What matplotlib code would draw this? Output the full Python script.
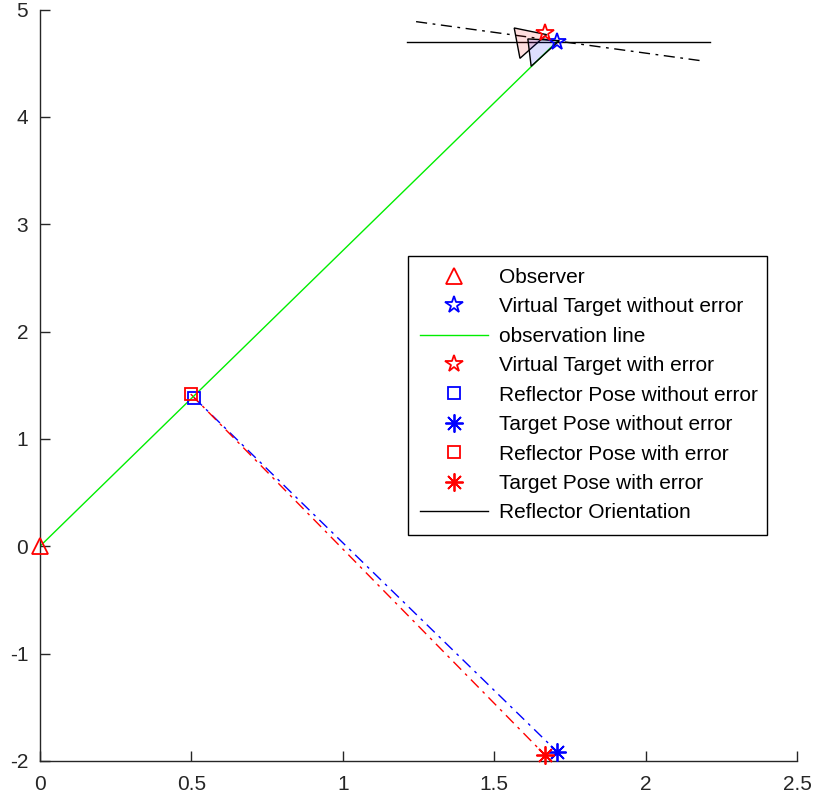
import matplotlib.pyplot as plt
from matplotlib.patches import Polygon

plt.rcParams['font.family'] = ['Liberation Sans', 'DejaVu Sans']

# points
observer = (0.0, 0.0)
vt_true = (1.707, 4.702)
vt_err = (1.668, 4.786)
refl_true = (0.509, 1.384)
refl_err = (0.498, 1.418)
tgt_true = (1.708, -1.915)
tgt_err = (1.668, -1.946)

# reflector orientation lines
orient_x = [1.212, 2.213]
orient_y = [4.702, 4.702]
orient_err_x = [1.242, 2.180]
orient_err_y = [4.888, 4.525]

# reflector shapes (triangles)
tri_err = [(1.566, 4.829), (1.673, 4.767), (1.585, 4.546)]
tri_true = [(1.611, 4.727), (1.715, 4.711), (1.622, 4.472)]

fig = plt.figure(figsize=(8.15, 8.01), dpi=100)
ax = fig.add_axes([0.049, 0.050, 0.929, 0.938])

ax.plot(orient_err_x, orient_err_y, color='black', lw=1.0, dashes=(8, 4, 2, 4))
ax.plot([refl_true[0], tgt_true[0]], [refl_true[1], tgt_true[1]], color='blue', lw=1.0,
        dashes=(8, 4, 2, 4))
ax.plot([refl_err[0], tgt_err[0]], [refl_err[1], tgt_err[1]], color='red', lw=1.0,
        dashes=(8, 4, 2, 4))

ax.plot(*observer, marker='^', ls='none', color='red', mfc='none', ms=11, mew=1.3,
        label='Observer', zorder=5, clip_on=False)
ax.plot(*vt_true, marker='*', ls='none', color='blue', mfc='none', ms=13, mew=1.3,
        label='Virtual Target without error', zorder=6)
ax.plot([observer[0], vt_true[0]], [observer[1], vt_true[1]], color='#00ee00', lw=1.0,
        label='observation line')
ax.plot(*vt_err, marker='*', ls='none', color='red', mfc='none', ms=13, mew=1.3,
        label='Virtual Target with error', zorder=6)
ax.plot(*refl_true, marker='s', ls='none', color='blue', mfc='none', ms=9, mew=1.3,
        label='Reflector Pose without error', zorder=5)
ax.plot(*tgt_true, marker=(8, 2, 0), ls='none', color='blue', ms=13, mew=1.3,
        label='Target Pose without error', zorder=5, clip_on=False)
ax.plot(*refl_err, marker='s', ls='none', color='red', mfc='none', ms=9, mew=1.3,
        label='Reflector Pose with error', zorder=5)
ax.plot(*tgt_err, marker=(8, 2, 0), ls='none', color='red', ms=13, mew=1.3,
        label='Target Pose with error', zorder=5, clip_on=False)
ax.plot(orient_x, orient_y, color='black', lw=1.0, label='Reflector Orientation')

ax.add_patch(Polygon(tri_err, closed=True, facecolor=(1, 0, 0, 0.13), edgecolor='black',
                     lw=1.0, zorder=4))
ax.add_patch(Polygon(tri_true, closed=True, facecolor=(0, 0, 1, 0.13), edgecolor='black',
                     lw=1.0, zorder=4))

ax.set_xlim(0, 2.5)
ax.set_ylim(-2, 5)
ax.set_xticks([0, 0.5, 1, 1.5, 2, 2.5])
ax.set_xticklabels(['0', '0.5', '1', '1.5', '2', '2.5'])
ax.set_yticks(range(-2, 6))
ax.set_yticklabels([str(v) if v >= 0 else '-' + str(-v) for v in range(-2, 6)])
for s in ['top', 'right']:
    ax.spines[s].set_visible(False)
for s in ['left', 'bottom']:
    ax.spines[s].set_color('#262626')
    ax.spines[s].set_linewidth(1.0)
ax.tick_params(direction='in', length=7, width=1.0, colors='#262626', labelsize=15)
ax.tick_params(axis='x', pad=10)
ax.tick_params(axis='y', pad=8.4)

leg = ax.legend(loc='upper left', bbox_to_anchor=(0.486, 0.3125, 0.474, 0.3602),
                mode='expand', fontsize=15,
                frameon=True, fancybox=False, framealpha=1, edgecolor='black',
                handlelength=3.26, handletextpad=0.5, labelspacing=0.5, borderpad=0.6,
                borderaxespad=0)
leg.get_frame().set_linewidth(1.0)

fig.savefig('out.png', dpi=100)
